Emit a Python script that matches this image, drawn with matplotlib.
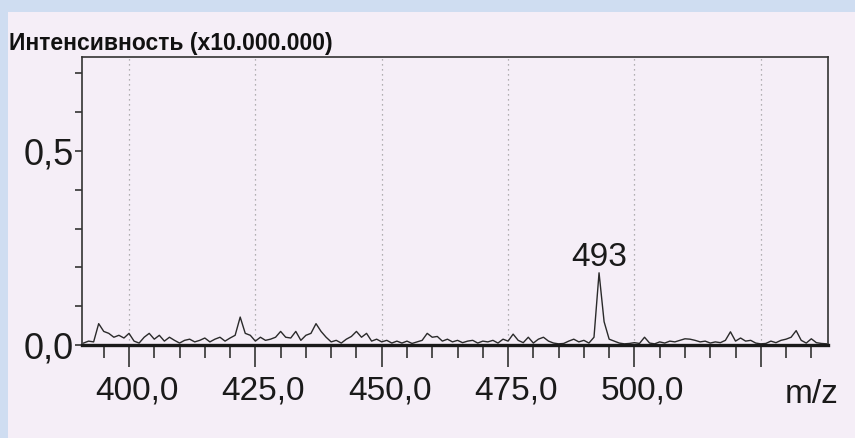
import matplotlib
matplotlib.use("Agg")
import matplotlib.pyplot as plt
import matplotlib.transforms as mtransforms
from matplotlib.patches import Rectangle
from matplotlib.ticker import FixedLocator, MultipleLocator

plt.rcParams['font.family'] = ['Liberation Sans', 'DejaVu Sans']

# ---- data -------------------------------------------------------------
mz_start = 391
intensity = [
    0.005, 0.010, 0.008, 0.055, 0.035, 0.030, 0.020, 0.025, 0.018, 0.030,  # 391-400
    0.010, 0.005, 0.020, 0.030, 0.015, 0.025, 0.010, 0.020, 0.012, 0.005,  # 401-410
    0.012, 0.015, 0.008, 0.012, 0.018, 0.008, 0.015, 0.020, 0.010, 0.018,  # 411-420
    0.025, 0.072, 0.030, 0.025, 0.010, 0.020, 0.012, 0.015, 0.020, 0.035,  # 421-430
    0.020, 0.018, 0.035, 0.012, 0.025, 0.030, 0.055, 0.035, 0.020, 0.008,  # 431-440
    0.012, 0.005, 0.015, 0.022, 0.035, 0.020, 0.030, 0.010, 0.015, 0.008,  # 441-450
    0.012, 0.005, 0.010, 0.005, 0.010, 0.004, 0.008, 0.012, 0.030, 0.020,  # 451-460
    0.022, 0.010, 0.015, 0.008, 0.012, 0.006, 0.010, 0.012, 0.005, 0.010,  # 461-470
    0.008, 0.012, 0.005, 0.015, 0.010, 0.028, 0.012, 0.006, 0.020, 0.005,  # 471-480
    0.015, 0.020, 0.010, 0.005, 0.003, 0.004, 0.010, 0.015, 0.008, 0.012,  # 481-490
    0.005, 0.020, 0.186, 0.060, 0.015, 0.010, 0.005, 0.003, 0.004, 0.006,  # 491-500
    0.004, 0.020, 0.005, 0.003, 0.008, 0.005, 0.010, 0.008, 0.012, 0.016,  # 501-510
    0.015, 0.012, 0.008, 0.010, 0.005, 0.008, 0.006, 0.012, 0.034, 0.010,  # 511-520
    0.018, 0.010, 0.012, 0.005, 0.003, 0.004, 0.010, 0.006, 0.012, 0.015,  # 521-530
    0.020, 0.037, 0.012, 0.005, 0.016, 0.006, 0.004, 0.003,                # 531-538
]
mz = list(range(mz_start, mz_start + len(intensity)))

x_major = [400, 425, 450, 475, 500, 525]
x_labels = ["400,0", "425,0", "450,0", "475,0", "500,0", ""]
y_major = [0.0, 0.5]
y_labels = ["0,0", "0,5"]
peak_mz = 493
peak_label = "493"

# ---- figure -----------------------------------------------------------
paper = "#F5EEF7"
blue = "#CFDDF1"
fig = plt.figure(figsize=(8.55, 4.38), dpi=100)
fig.patch.set_facecolor(paper)
W, H = 855, 438
fig.patches.append(Rectangle((0, 0), 8 / W, 1, transform=fig.transFigure,
                             facecolor=blue, edgecolor="none", zorder=-1))
fig.patches.append(Rectangle((0, 1 - 12 / H), 1, 12 / H, transform=fig.transFigure,
                             facecolor=blue, edgecolor="none", zorder=-1))

ax = fig.add_axes([82 / W, 1 - 345 / H, (828 - 82) / W, (345 - 57) / H])
ax.set_facecolor("none")

ax.plot(mz, intensity, color="#2a2a2a", lw=1.0, zorder=3)

ax.set_xlim(390.7, 538.3)
ax.set_ylim(0, 0.742)

for s in ["top", "right", "left"]:
    ax.spines[s].set_linewidth(1.2)
    ax.spines[s].set_color("#333333")
ax.spines["bottom"].set_linewidth(2.4)
ax.spines["bottom"].set_color("#1a1a1a")
ax.spines["bottom"].set_zorder(4)

# x ticks
ax.xaxis.set_major_locator(FixedLocator(x_major))
ax.set_xticklabels(x_labels)
ax.xaxis.set_minor_locator(MultipleLocator(5))
ax.tick_params(axis="x", which="major", direction="out", length=16, width=1.2,
               color="#333333", labelsize=24, pad=6, labelcolor="#1a1a1a")
ax.tick_params(axis="x", which="minor", direction="out", length=9, width=1.2,
               color="#333333")
offset = mtransforms.ScaledTranslation(0.08, 0, fig.dpi_scale_trans)
for lbl in ax.get_xticklabels():
    lbl.set_transform(lbl.get_transform() + offset)

# y ticks
ax.yaxis.set_major_locator(FixedLocator(y_major))
ax.set_yticklabels(y_labels)
ax.yaxis.set_minor_locator(MultipleLocator(0.1))
ax.tick_params(axis="y", which="both", direction="out", length=5, width=1.2,
               color="#333333")
ax.tick_params(axis="y", which="major", labelsize=26, pad=1, labelcolor="#1a1a1a")

# dotted vertical grid
for xv in x_major:
    ax.axvline(xv, color="#9a9a9a", lw=0.9, ls=(0, (1, 3)), zorder=1)

# peak label
ax.text(peak_mz, intensity[peak_mz - mz_start], peak_label, ha="center",
        va="bottom", fontsize=24, color="#1a1a1a")

# axis labels
fig.text(9 / W, 1 - 50 / H, "Интенсивность (x10.000.000)", fontsize=16.5,
         fontweight="bold", ha="left", va="baseline", color="#111111")
fig.text(838 / W, 1 - 403 / H, "m/z", fontsize=24, ha="right", va="baseline",
         color="#1a1a1a")

fig.savefig("out.png", dpi=100, facecolor=fig.get_facecolor())
